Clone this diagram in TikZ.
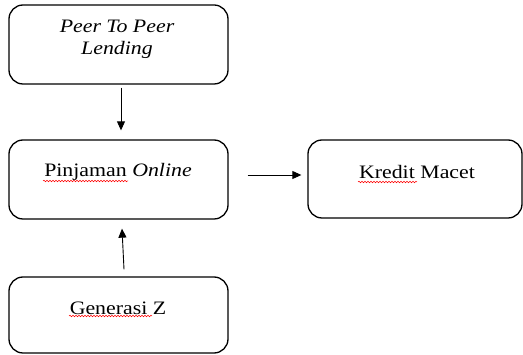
\documentclass[tikz,border=0pt]{standalone}
\usepackage{fontspec}
\setmainfont{Liberation Serif}
\usetikzlibrary{arrows.meta,decorations.pathmorphing}
\newcommand{\wide}[1]{\scalebox{1.15}[1]{#1}}
\begin{document}
\begin{tikzpicture}[x=1pt,y=-1pt,
  box/.style={draw,line width=1.3pt,rounded corners=14pt,inner sep=0pt},
  lbl/.style={font=\fontsize{19pt}{22pt}\selectfont,align=center,inner sep=0pt},
  arr/.style={line width=0.9pt,-{Triangle[length=9pt,width=8pt]}},
  spell/.style={red,line width=0.5pt,decorate,decoration={snake,segment length=3pt,amplitude=0.8pt}}]
\useasboundingbox (0,0) rectangle (523,355);
\node[box,minimum width=219pt,minimum height=79pt] (b1) at (118.5,44.5) {};
\node[box,minimum width=219pt,minimum height=79pt] (b2) at (118.5,179.5) {};
\node[box,minimum width=214pt,minimum height=78pt] (b3) at (415,179) {};
\node[box,minimum width=219pt,minimum height=76pt] (b4) at (118.5,315) {};
\node[lbl] (t1) at (117,39) {\wide{\itshape Peer To Peer}\\\wide{\itshape Lending}};
\node[lbl] (t2) at (118,172) {\wide{Pinjaman \textit{Online}}};
\node[lbl] (t3) at (417,172) {\wide{Kredit Macet}};
\node[lbl] (t4) at (118,308) {\wide{Generasi Z}};
\draw[arr] ([xshift=2.5pt,yshift=-3pt]b1.south) -- ([xshift=2.5pt,yshift=9pt]b2.north);
\draw[arr] ([xshift=19pt,yshift=4.5pt]b2.east) -- ([xshift=-6pt,yshift=4pt]b3.west);
\draw[arr] ([xshift=5.5pt,yshift=7pt]b4.north) -- ([xshift=3.5pt,yshift=-9pt]b2.south);
\draw[spell] (43,181) -- (128,181);
\draw[spell] (358,182) -- (417,182);
\draw[spell] (69,316) -- (152,316);
\end{tikzpicture}
\end{document}
